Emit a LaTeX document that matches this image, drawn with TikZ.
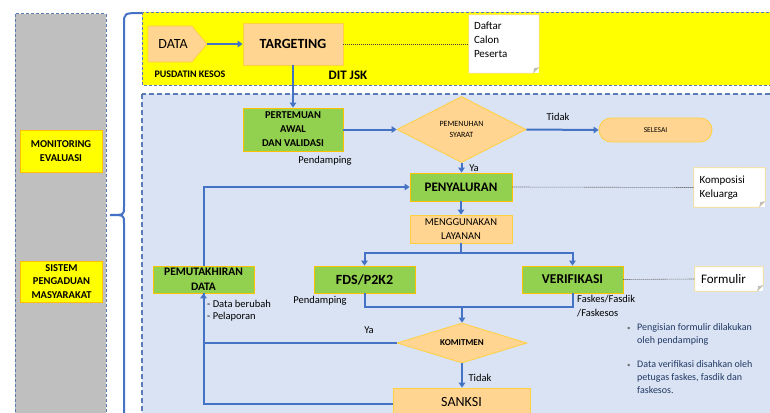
\documentclass[tikz,border=0pt]{standalone}
\usepackage{fontspec}
\setmainfont{Carlito}
\usetikzlibrary{arrows.meta,shapes.geometric}
\definecolor{ylw}{HTML}{FFFF00}
\definecolor{bgblue}{HTML}{DAE3F3}
\definecolor{gry}{HTML}{BFBFBF}
\definecolor{grn}{HTML}{92D050}
\definecolor{org}{HTML}{FFD591}
\definecolor{orgline}{HTML}{FFC000}
\definecolor{flowblue}{HTML}{4472C4}
\definecolor{dashblue}{HTML}{5B7BB4}
\definecolor{notebd}{HTML}{FFE08A}
\definecolor{navy}{HTML}{203864}
\tikzset{
  gbox/.style={draw=orgline, fill=grn, line width=0.8pt, align=center, inner sep=0pt},
  obox/.style={draw=orgline!75, fill=org, line width=0.8pt, align=center, inner sep=0pt},
  ybox/.style={draw=orgline, fill=ylw, line width=0.8pt, align=center, inner sep=0pt,
    minimum width=82pt, font=\bfseries\fontsize{10.5}{13.3}\selectfont},
  flow/.style={draw=flowblue, line width=2pt, -{Triangle[length=5pt,width=6.5pt]}},
  plainline/.style={draw=flowblue, line width=2pt},
  dotl/.style={draw=black!75, line width=0.6pt, dash pattern=on 1pt off 1pt},
  notebox/.style={fill=white, inner sep=0pt, align=left},
  lbl/.style={inner sep=0pt, align=left, font=\fontsize{10.5}{13.5}\selectfont},
}
\newcommand{\foldframe}[1]{%
  \draw[notebd, line width=0.8pt] (#1.north west) -- (#1.north east) -- ([yshift=6pt]#1.south east)
     -- ([xshift=-6pt]#1.south east) -- (#1.south west) -- cycle;
  \fill[black!25] ([yshift=6pt]#1.south east) -- ([xshift=-6pt]#1.south east) -- ([xshift=-5pt,yshift=5pt]#1.south east) -- cycle;}
\newcommand{\bul}{\makebox[10pt][l]{\textcolor{black!55}{\scriptsize\textbullet}}}
\begin{document}
\begin{tikzpicture}[x=1pt,y=-1pt]
\useasboundingbox (0,0) rectangle (770,412);
\clip (0,0) rectangle (770,412);
\fill[white] (0,0) rectangle (770,412);

% left column
\draw[fill=gry, draw=dashblue, line width=1pt, dash pattern=on 3pt off 2pt] (15,14) rectangle (106,440);
\node[ybox, minimum height=42pt] (monev) at (61,151) {MONITORING\\EVALUASI};
\node[ybox, minimum height=41pt] (sp) at (61.5,281.5) {SISTEM\\PENGADUAN\\MASYARAKAT};

% brace
\draw[flowblue, line width=2pt] (142,13) .. controls (124,13) .. (124,24) -- (124,207)
   .. controls (124,215) .. (110,215);
\draw[flowblue, line width=2pt] (110,215) .. controls (124,215) .. (124,223) -- (124,440);

% panels
\draw[fill=ylw, draw=dashblue, line width=0.8pt, dash pattern=on 3pt off 2pt] (142,12) rectangle (790,85);
\draw[fill=bgblue, draw=dashblue, line width=1.4pt, dash pattern=on 5pt off 3pt] (142,94) rectangle (790,440);

% top row
\draw[obox] (148,26) -- (192,26) -- (207,44) -- (192,62) -- (148,62) -- cycle;
\node[inner sep=0pt, font=\fontsize{14}{17}\selectfont] (data) at (173,44) {DATA};
\coordinate (datatip) at (207,44);
\node[obox, minimum width=100pt, minimum height=42pt, font=\bfseries\fontsize{14}{17}\selectfont] (target) at (293,44) {TARGETING};
\node[inner sep=0pt, font=\bfseries\fontsize{10}{12}\selectfont] (pusdatin) at (190,74) {PUSDATIN KESOS};
\node[inner sep=0pt, font=\bfseries\fontsize{13}{15}\selectfont] (ditjsk) at (348,75) {DIT JSK};
\node[notebox, minimum width=70pt, minimum height=58pt] (daftar) at (504,44)
  {\parbox[c]{60pt}{\fontsize{11}{14}\selectfont Daftar\\Calon\\Peserta\par\vspace*{9pt}}};
\foldframe{daftar}
\draw[flow] (datatip) -- (target.west);
\draw[dotl] (target.east) -- (daftar.west);

% main flow
\node[gbox, minimum width=100pt, minimum height=43pt, font=\bfseries\fontsize{10.5}{14}\selectfont] (pert) at (293,129.5) {PERTEMUAN\\AWAL\\DAN VALIDASI};
\node[lbl] (pend1) at (325,161) {Pendamping};
\node[diamond, draw=orgline!75, fill=org, line width=0.8pt, minimum width=129pt, minimum height=66pt, inner sep=0pt, aspect=2,
  align=center, font=\fontsize{8}{11}\selectfont] (syarat) at (461.5,129.5) {PEMENUHAN\\SYARAT};
\node[draw=orgline!75, fill=org, line width=0.8pt, minimum width=113pt, minimum height=24pt, rounded corners=12pt,
  inner sep=0pt, font=\fontsize{7.5}{9}\selectfont] (selesai) at (655.5,130) {SELESAI};
\node[lbl] (tidak1) at (558,117) {Tidak};
\node[lbl] (ya1) at (474,168) {Ya};
\node[gbox, minimum width=102pt, minimum height=28pt, font=\bfseries\fontsize{13}{15}\selectfont] (penyal) at (461,187) {PENYALURAN};
\node[notebox, minimum width=71pt, minimum height=39pt] (kompos) at (729.5,187.5)
  {\parbox[c]{60pt}{\fontsize{11}{13.5}\selectfont Komposisi\\Keluarga}};
\foldframe{kompos}
\node[obox, minimum width=102pt, minimum height=28pt, font=\fontsize{10.5}{13.5}\selectfont] (meng) at (461,229) {MENGGUNAKAN\\LAYANAN};
\node[gbox, minimum width=101pt, minimum height=27pt, font=\bfseries\fontsize{14}{16}\selectfont] (fds) at (364.5,279.5) {FDS/P2K2};
\node[gbox, minimum width=101pt, minimum height=27pt, font=\bfseries\fontsize{13.5}{16}\selectfont] (verif) at (572.5,279.5) {VERIFIKASI};
\node[notebox, minimum width=68pt, minimum height=24pt] (formulir) at (729,279)
  {\parbox[c]{56pt}{\fontsize{13}{15}\selectfont Formulir}};
\foldframe{formulir}
\node[gbox, minimum width=101pt, minimum height=27pt, font=\bfseries\fontsize{11.5}{15}\selectfont] (pemut) at (203.5,279.5) {PEMUTAKHIRAN\\DATA};
\node[lbl] (pend2) at (320,301) {Pendamping};
\node[lbl, anchor=north west, font=\fontsize{10.5}{14}\selectfont] (faskes) at (577,295) {Faskes/Fasdik\\/Faskesos};
\node[lbl, anchor=north west, font=\fontsize{10.5}{12}\selectfont] (databer) at (207,300) {- Data berubah\\- Pelaporan};
\node[diamond, draw=orgline!75, fill=org, line width=0.8pt, minimum width=130pt, minimum height=40pt, inner sep=0pt, aspect=3.2,
  font=\bfseries\fontsize{9}{11}\selectfont] (komit) at (462,343) {KOMITMEN};
\node[lbl] (ya2) at (369,330) {Ya};
\node[lbl] (tidak2) at (480,378) {Tidak};
\node[obox, minimum width=137pt, minimum height=32pt, font=\fontsize{14}{16}\selectfont] (sanksi) at (461.5,404) {\raisebox{4pt}{SANKSI}};
\node[lbl, anchor=north west, text=navy, font=\fontsize{10}{13.3}\selectfont] (bul1) at (627,323)
  {\bul Pengisian formulir dilakukan\\\hspace*{10pt}oleh pendamping};
\node[lbl, anchor=north west, text=navy, font=\fontsize{10}{13.3}\selectfont] (bul2) at (627,360)
  {\bul Data verifikasi disahkan oleh\\\hspace*{10pt}petugas faskes, fasdik dan\\\hspace*{10pt}faskesos.};

% connectors
\draw[flow] (target.south) -- (pert.north);
\draw[flow] (pert.east) -- (syarat.west);
\draw[flow] (syarat.east) -- (selesai.west);
\draw[flow] (syarat.south) -- (penyal.north -| syarat.south);
\draw[dotl] (penyal.east) -- (kompos.west);
\draw[flow] (penyal.south) -- (meng.north);
\coordinate (split) at (461,253);
\draw[plainline] (meng.south) -- (split);
\draw[flow] (split) -| (fds.north);
\draw[flow] (split) -| (verif.north);
\draw[dotl] (verif.east) -- (formulir.west);
\coordinate (join) at (462,307);
\draw[plainline] (fds.south) |- (join);
\draw[plainline] (verif.south) |- (join);
\draw[flow] (join) -- (komit.north);
\draw[flow] (komit.south) -- (sanksi.north -| komit.south);
\draw[plainline] (sanksi.west) -| (pemut.south);
\draw[flow] (komit.west) -| (pemut.south);
\draw[flow] (pemut.north) |- (penyal.west);
\end{tikzpicture}
\end{document}
